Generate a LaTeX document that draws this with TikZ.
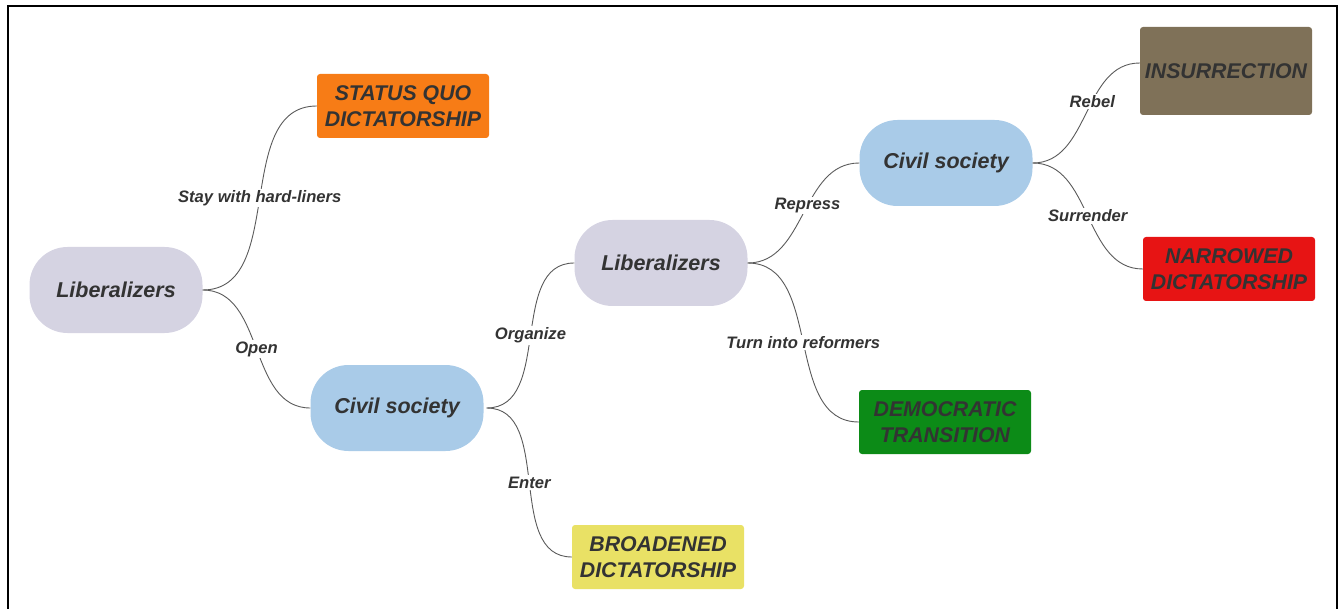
\documentclass[tikz,border=0pt]{standalone}
\usepackage{fontspec}
\setmainfont{Liberation Sans}
\definecolor{txt}{HTML}{333333}
\definecolor{libfill}{HTML}{D5D3E2}
\definecolor{civfill}{HTML}{A9CBE8}
\definecolor{sqfill}{HTML}{F77C16}
\definecolor{insfill}{HTML}{7F7158}
\definecolor{narfill}{HTML}{E71414}
\definecolor{demfill}{HTML}{0C8B17}
\definecolor{brofill}{HTML}{E9E165}
\definecolor{linec}{HTML}{5A5A5A}
\begin{document}
\begin{tikzpicture}[x=1pt,y=-1pt,
  pill/.style={rounded corners=38pt, minimum width=173pt, minimum height=86pt, inner sep=0pt,
    text=txt, font=\fontsize{21.5}{25}\selectfont\bfseries\itshape},
  lib/.style={pill, fill=libfill},
  civ/.style={pill, fill=civfill},
  outcome/.style={rounded corners=3pt, minimum width=172pt, minimum height=64pt, inner sep=0pt,
    align=center, text=txt, font=\fontsize{21.3}{26}\selectfont\bfseries\itshape},
  conn/.style={draw=linec, line width=0.9pt},
  lbl/.style={fill=white, inner sep=1.5pt, text=txt, font=\fontsize{16.6}{19}\selectfont\bfseries\itshape}]
\useasboundingbox (0,0) rectangle (1340,609);
% frame
\draw[line width=2.2pt] (8,609) -- (8,6) -- (1337,6) -- (1337,609);

% actors
\node[lib] (lib1) at (116,290) {Liberalizers};
\node[civ] (civ1) at (397,408) {Civil society};
\node[lib] (lib2) at (661,263) {Liberalizers};
\node[civ] (civ2) at (946,163) {Civil society};

% outcomes
\node[outcome, fill=sqfill] (sq) at (403,106) {STATUS QUO\\DICTATORSHIP};
\node[outcome, fill=insfill, minimum height=88pt] (ins) at (1226,71) {INSURRECTION};
\node[outcome, fill=narfill] (nar) at (1229,269) {NARROWED\\DICTATORSHIP};
\node[outcome, fill=demfill] (dem) at (945,422) {DEMOCRATIC\\TRANSITION};
\node[outcome, fill=brofill] (bro) at (658,557) {BROADENED\\DICTATORSHIP};

% choices
\draw[conn] (lib1.east) to[out=0,in=180] node[lbl] {Stay with hard-liners} (sq.west);
\draw[conn] (lib1.east) to[out=0,in=180] node[lbl] {Open} (civ1.west);
\draw[conn] ([xshift=3pt]civ1.east) to[out=0,in=180] node[lbl] {Organize} (lib2.west);
\draw[conn] ([xshift=3pt]civ1.east) to[out=0,in=180] node[lbl] {Enter} (bro.west);
\draw[conn] (lib2.east) to[out=0,in=180] node[lbl, pos=0.55] {Repress} (civ2.west);
\draw[conn] (lib2.east) to[out=0,in=180] node[lbl] {Turn into reformers} (dem.west);
\draw[conn] (civ2.east) to[out=0,in=180] node[lbl, pos=0.58] {Rebel} ([yshift=8pt]ins.west);
\draw[conn] (civ2.east) to[out=0,in=180] node[lbl] {Surrender} (nar.west);
\end{tikzpicture}
\end{document}
